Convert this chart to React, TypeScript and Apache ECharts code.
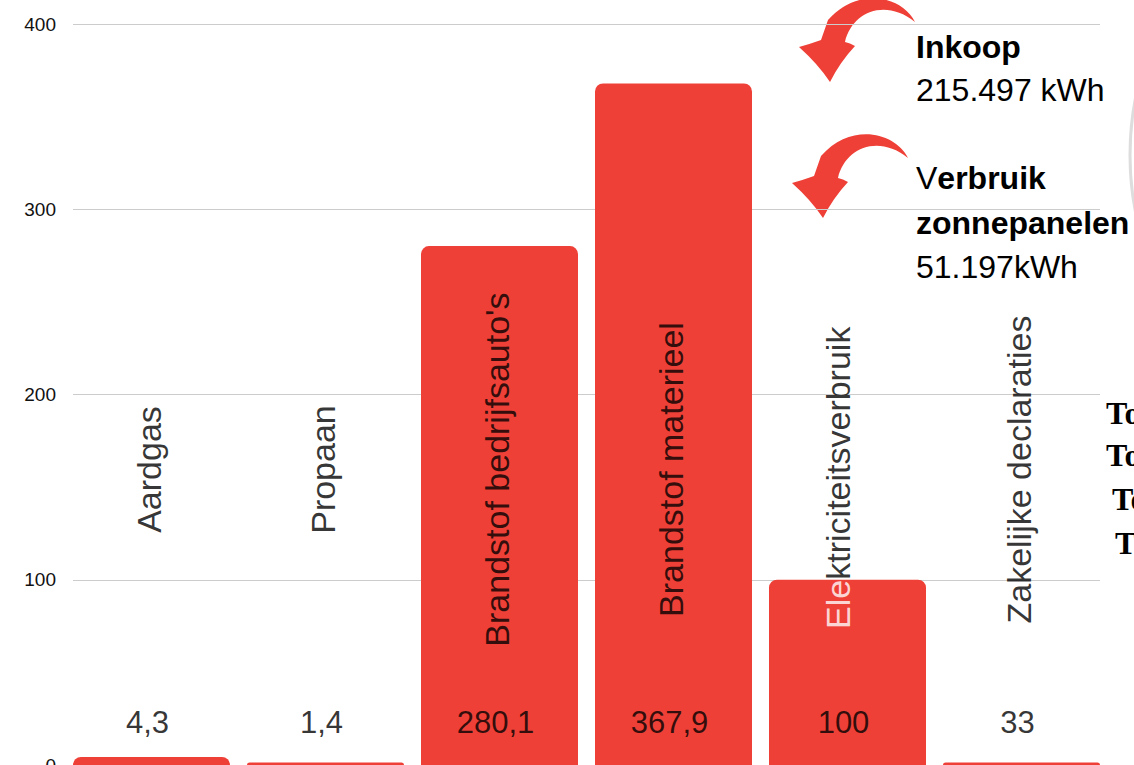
import React, { useEffect, useRef } from "react";
import * as echarts from "echarts";

const categories = [
  "Aardgas",
  "Propaan",
  "Brandstof bedrijfsauto's",
  "Brandstof materieel",
  "Elektriciteitsverbruik",
  "Zakelijke declaraties",
];
const barValues = [4.3, 1.4, 280.1, 367.9, 100, 1.4];
const valueLabels = ["4,3", "1,4", "280,1", "367,9", "100", "33"];
const Y_MIN = 0;
const Y_MAX = 400;
const Y_INTERVAL = 100;
const CATEGORY_LABEL_Y = 159.5;
const VALUE_LABEL_Y = 22.7;
// the label of this category is split where it crosses the top of its bar
const SPLIT_INDEX = 4;
const SPLIT_HEAD = "Ele";
const SPLIT_TAIL = "ktriciteitsverbruik";

const inkoopTitle = "Inkoop";
const inkoopValue = "215.497 kWh";
const zonTitleFirst = "V";
const zonTitleRest = "erbruik";
const zonTitle2 = "zonnepanelen";
const zonValue = "51.197kWh";
const cutTexts = ["To", "To", "To", "T"];

const RED = "#EF4037";
const FONT = "'Liberation Sans', Arial, sans-serif";

const arrowPath =
  "M85,-60 C72,-86 28,-96 -2,-62 L-9,-42 Q-20,-38 -31,-35 Q-12,-18 0,0 Q10,-20 25,-36 Q20,-39 15,-40 C22,-70 55,-84 85,-60 Z";
echarts.graphic.registerShape("curvedArrow", (echarts.graphic as any).extendPath(arrowPath, {}));

export default function App() {
  const ref = useRef<HTMLDivElement>(null);
  useEffect(() => {
    document.body.style.margin = "0";
    const chart = echarts.init(ref.current!, null, { renderer: "svg" });
    const labelBase = {
      show: true,
      position: "inside",
      fontSize: 34,
      fontFamily: FONT,
      color: "#000",
    };
    const option: any = {
      animation: false,
      grid: [
        { left: 73, right: 34, top: 24, bottom: 0, outerBoundsMode: "none", containLabel: false },
        { left: 64.5, right: 25.5, top: 24, bottom: 0, outerBoundsMode: "none", containLabel: false },
      ],
      xAxis: [
        { type: "value", gridIndex: 0, show: false, min: 0, max: 1 },
        { type: "category", gridIndex: 1, data: categories, show: false },
      ],
      yAxis: [
        {
          type: "value",
          gridIndex: 0,
          min: Y_MIN,
          max: Y_MAX,
          interval: Y_INTERVAL,
          axisLine: { show: false },
          axisTick: { show: false },
          axisLabel: { fontSize: 19, color: "#111", fontFamily: FONT, margin: 17 },
          splitLine: { lineStyle: { color: "#cccccc", width: 1 } },
        },
        { type: "value", gridIndex: 1, min: Y_MIN, max: Y_MAX, show: false, splitLine: { show: false } },
      ],
      series: [
        {
          type: "bar",
          xAxisIndex: 1,
          yAxisIndex: 1,
          data: barValues,
          barWidth: 157,
          itemStyle: { color: RED, borderRadius: [8, 8, 0, 0] },
          silent: true,
          z: 2,
        },
        {
          type: "scatter",
          xAxisIndex: 1,
          yAxisIndex: 1,
          symbolSize: 1,
          itemStyle: { color: "rgba(0,0,0,0)" },
          silent: true,
          z: 3,
          data: categories.map((c, i) =>
            i === SPLIT_INDEX
              ? {
                  value: [c, barValues[i]],
                  label: {
                    ...labelBase,
                    rotate: 90,
                    align: "left",
                    verticalAlign: "middle",
                    offset: [0, -10],
                    formatter: SPLIT_TAIL,
                  },
                }
              : { value: [c, CATEGORY_LABEL_Y] }
          ),
          label: {
            ...labelBase,
            rotate: 90,
            offset: [0, -3],
            formatter: (p: any) => categories[p.dataIndex],
          },
        },
        {
          type: "scatter",
          xAxisIndex: 1,
          yAxisIndex: 1,
          symbolSize: 1,
          itemStyle: { color: "rgba(0,0,0,0)" },
          silent: true,
          z: 3,
          data: [[categories[SPLIT_INDEX], barValues[SPLIT_INDEX]]],
          label: {
            ...labelBase,
            rotate: 90,
            align: "right",
            verticalAlign: "middle",
            offset: [0, -10],
            color: "#fff",
            formatter: SPLIT_HEAD,
          },
        },
        {
          type: "scatter",
          xAxisIndex: 1,
          yAxisIndex: 1,
          symbolSize: 1,
          itemStyle: { color: "rgba(0,0,0,0)" },
          silent: true,
          z: 3,
          data: categories.map((c) => [c, VALUE_LABEL_Y]),
          label: {
            ...labelBase,
            fontSize: 31,
            offset: [-4, 0],
            formatter: (p: any) => valueLabels[p.dataIndex],
          },
        },
      ],
      graphic: [
        {
          type: "circle",
          shape: { cx: 1420, cy: 155, r: 290 },
          style: { fill: "none", stroke: "#dddddd", lineWidth: 3 },
          silent: true,
        },
        { type: "curvedArrow", x: 830, y: 82, style: { fill: RED }, silent: true },
        { type: "curvedArrow", x: 823, y: 218, style: { fill: RED }, silent: true },
        {
          type: "text",
          x: 916,
          y: 47,
          style: { text: inkoopTitle, fill: "#000", fontSize: 32, fontWeight: "bold", fontFamily: FONT, verticalAlign: "middle" },
        },
        {
          type: "text",
          x: 916,
          y: 90,
          style: { text: inkoopValue, fill: "#000", fontSize: 32, fontFamily: FONT, verticalAlign: "middle" },
        },
        {
          type: "text",
          x: 916,
          y: 178,
          style: {
            text: "{n|" + zonTitleFirst + "}{b|" + zonTitleRest + "}",
            verticalAlign: "middle",
            rich: {
              n: { fill: "#000", fontSize: 32, fontFamily: FONT },
              b: { fill: "#000", fontSize: 32, fontFamily: FONT, fontWeight: "bold" },
            },
          },
        },
        {
          type: "text",
          x: 916,
          y: 223,
          style: { text: zonTitle2, fill: "#000", fontSize: 32, fontWeight: "bold", fontFamily: FONT, verticalAlign: "middle" },
        },
        {
          type: "text",
          x: 916,
          y: 267,
          style: { text: zonValue, fill: "#000", fontSize: 32, fontFamily: FONT, verticalAlign: "middle" },
        },
        ...cutTexts.map((t, i) => ({
          type: "text",
          x: [1106, 1106, 1112, 1115][i],
          y: [413, 455, 499, 543][i],
          style: {
            text: t,
            fill: "#000",
            fontSize: 32,
            fontWeight: "bold",
            fontFamily: "'Liberation Serif', 'Times New Roman', serif",
            verticalAlign: "middle",
          },
        })),
      ],
    };
    chart.setOption(option);
    return () => chart.dispose();
  }, []);
  return <div ref={ref} style={{ width: 1134, height: 765 }} />;
}
